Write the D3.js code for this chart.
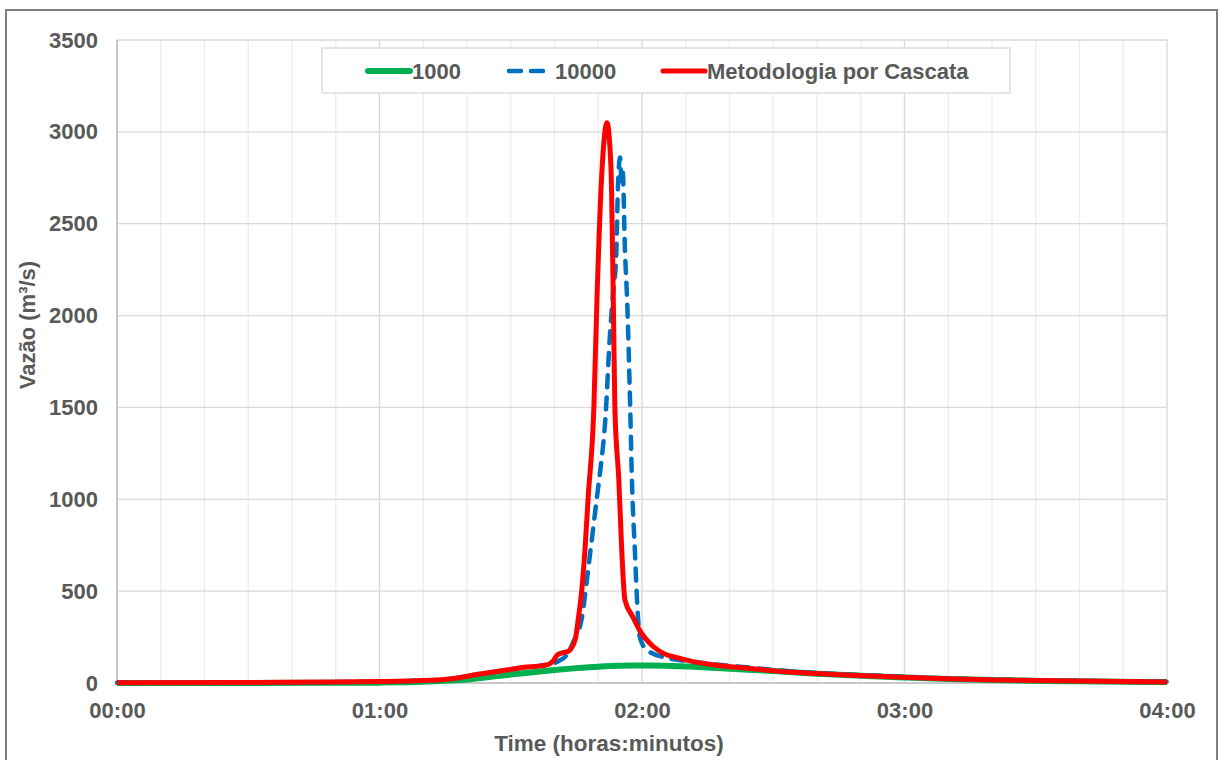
<!DOCTYPE html>
<html>
<head>
<meta charset="utf-8">
<script src="https://cdn.jsdelivr.net/npm/d3@7"></script>
<style>
  html, body { margin: 0; padding: 0; background: #fff; }
  svg text { font-family: "Liberation Sans", Arial, sans-serif; font-weight: bold; fill: #595959; }
</style>
</head>
<body>
<svg id="chart" width="1223" height="760"></svg>
<script>
// ---- Data (time in minutes, flow in m³/s) ----
const seriesNames = ["1000", "10000", "Metodologia por Cascata"];

const tGreen = [0, 50, 60, 65, 70, 75, 80, 85, 90, 95, 100, 105, 110, 115, 120, 125, 130, 135, 140, 150, 160, 170, 180, 190, 200, 220, 240];
const vGreen = [0, 1, 2, 4, 7, 12, 19, 32, 46, 59, 71, 81, 89, 94, 95, 94, 90, 85, 78, 65, 51, 39, 30, 22, 16, 9, 5];

const tBlue = [0, 30, 50, 60, 68, 76, 83, 87.5, 92, 98.5, 101, 103, 104.2, 106.3, 107.4, 108.6, 109.7, 110.4, 111.8, 112.5, 113.4, 114.1, 114.5, 115, 115.3, 115.6, 116.1, 116.6, 117.3, 117.7, 118.4, 118.9, 119.5, 121.1, 125.7, 130, 137, 142.4, 153.8, 165.3, 176.7, 188, 202, 225, 240];
const vBlue = [2, 3, 5, 8, 12, 22, 49, 65, 82, 100, 120, 160, 218, 360, 560, 795, 1012, 1143, 1502, 1829, 2123, 2319, 2700, 2860, 2730, 2780, 2357, 2085, 1502, 1100, 707, 435, 250, 180, 136, 120, 101, 89, 64, 48, 37, 26, 18, 10, 7];

const tRed = [0, 30, 50, 60, 68, 76, 83, 87.5, 92, 98.5, 99.7, 100.6, 101.9, 103.1, 104.7, 105.4, 106.3, 107, 107.7, 109, 109.7, 110.9, 112, 112.9, 113.4, 113.8, 114.7, 115.4, 116.1, 117.9, 119.5, 122.5, 125, 128, 132, 137, 142.4, 153.8, 165.3, 176.7, 188, 202, 225, 240];
const vRed = [2, 3, 5, 8, 12, 22, 49, 65, 82, 100, 120, 152, 165, 172, 234, 343, 523, 740, 1012, 1500, 2085, 2809, 3050, 2809, 2150, 1502, 1105, 707, 452, 360, 285, 200, 160, 138, 115, 97, 84, 60, 45, 34, 24, 16, 9, 6];

const yTicks = [0, 500, 1000, 1500, 2000, 2500, 3000, 3500];
const xTicks = [0, 60, 120, 180, 240];           // labelled ticks (hours)
const xMinorTicks = d3.range(0, 241, 10);        // 10-minute gridlines
const xTitle = "Time (horas:minutos)";
const yTitle = "Vazão (m³/s)";

// ---- Layout ----
const svg = d3.select("#chart");
const pL = 117, pR = 1167, pT = 40, pB = 683;
const FS = "22px";

const x = d3.scaleLinear().domain([0, 240]).range([pL, pR]);
const y = d3.scaleLinear().domain([0, 3500]).range([pB, pT]);

// outer border
svg.append("rect").attr("x", 6).attr("y", 10).attr("width", 1211).attr("height", 780)
  .attr("fill", "#fff").attr("stroke", "#7f7f7f").attr("stroke-width", 2);

// vertical gridlines
svg.append("g").selectAll("line").data(xMinorTicks).join("line")
  .attr("x1", d => x(d)).attr("x2", d => x(d)).attr("y1", pT).attr("y2", pB)
  .attr("stroke", d => d % 60 === 0 ? "#d9d9d9" : "#ededed").attr("stroke-width", 1.3);

// horizontal gridlines
svg.append("g").selectAll("line").data(yTicks).join("line")
  .attr("x1", pL).attr("x2", pR).attr("y1", d => y(d)).attr("y2", d => y(d))
  .attr("stroke", "#d9d9d9").attr("stroke-width", 1.3);

// axis lines
svg.append("line").attr("x1", pL).attr("x2", pL).attr("y1", pT).attr("y2", pB)
  .attr("stroke", "#bfbfbf").attr("stroke-width", 1.5);
svg.append("line").attr("x1", pL).attr("x2", pR).attr("y1", pB).attr("y2", pB)
  .attr("stroke", "#bfbfbf").attr("stroke-width", 1.5);

// y axis labels
const yAxis = d3.axisLeft(y).tickValues(yTicks).tickSize(0).tickPadding(19).tickFormat(d3.format("d"));
const gy = svg.append("g").attr("transform", `translate(${pL},0)`).call(yAxis);
gy.select(".domain").remove();
gy.selectAll("text").style("font-size", FS).attr("fill", "#595959")
  .style("font-family", "'Liberation Sans', Arial, sans-serif").style("font-weight", "bold");

// x axis labels
const fmt = m => String(Math.floor(m / 60)).padStart(2, "0") + ":" + String(m % 60).padStart(2, "0");
const xAxis = d3.axisBottom(x).tickValues(xTicks).tickSize(0).tickPadding(19).tickFormat(fmt);
const gx = svg.append("g").attr("transform", `translate(0,${pB})`).call(xAxis);
gx.select(".domain").remove();
gx.selectAll("text").style("font-size", FS).attr("fill", "#595959")
  .style("font-family", "'Liberation Sans', Arial, sans-serif").style("font-weight", "bold");

// axis titles
svg.append("text").attr("x", 609).attr("y", 751).attr("text-anchor", "middle")
  .style("font-size", "22.5px").text(xTitle);
svg.append("text").attr("transform", "translate(35,325) rotate(-90)").attr("text-anchor", "middle")
  .style("font-size", "22px").text(yTitle);

// lines
const line = d3.line().x(d => x(d[0])).y(d => y(d[1])).curve(d3.curveMonotoneX);
const zip = (ts, vs) => ts.map((t, i) => [t, vs[i]]);

svg.append("path").datum(zip(tGreen, vGreen)).attr("d", line)
  .attr("fill", "none").attr("stroke", "#00B050").attr("stroke-width", 6).attr("stroke-linejoin", "round");
svg.append("path").datum(zip(tBlue, vBlue)).attr("d", line)
  .attr("fill", "none").attr("stroke", "#0070C0").attr("stroke-width", 4.5)
  .attr("stroke-dasharray", "12,10").attr("stroke-linecap", "round").attr("stroke-linejoin", "round");
svg.append("path").datum(zip(tRed, vRed)).attr("d", line)
  .attr("fill", "none").attr("stroke", "#FF0000").attr("stroke-width", 5).attr("stroke-linejoin", "round");

// legend
const lg = svg.append("g");
lg.append("rect").attr("x", 322).attr("y", 48).attr("width", 688).attr("height", 45)
  .attr("fill", "#fff").attr("stroke", "#d9d9d9").attr("stroke-width", 1.3);
const legendItems = [
  { name: seriesNames[0], color: "#00B050", x1: 368, x2: 410, dash: null, w: 6, tx: 412 },
  { name: seriesNames[1], color: "#0070C0", x1: 509, x2: 551, dash: "12,10", w: 4.5, tx: 555 },
  { name: seriesNames[2], color: "#FF0000", x1: 663, x2: 705, dash: null, w: 5, tx: 707 }
];
legendItems.forEach(it => {
  lg.append("line").attr("x1", it.x1).attr("x2", it.x2).attr("y1", 71).attr("y2", 71)
    .attr("stroke", it.color).attr("stroke-width", it.w).attr("stroke-linecap", "round")
    .attr("stroke-dasharray", it.dash);
  lg.append("text").attr("x", it.tx).attr("y", 79).style("font-size", FS).text(it.name);
});
</script>
</body>
</html>
